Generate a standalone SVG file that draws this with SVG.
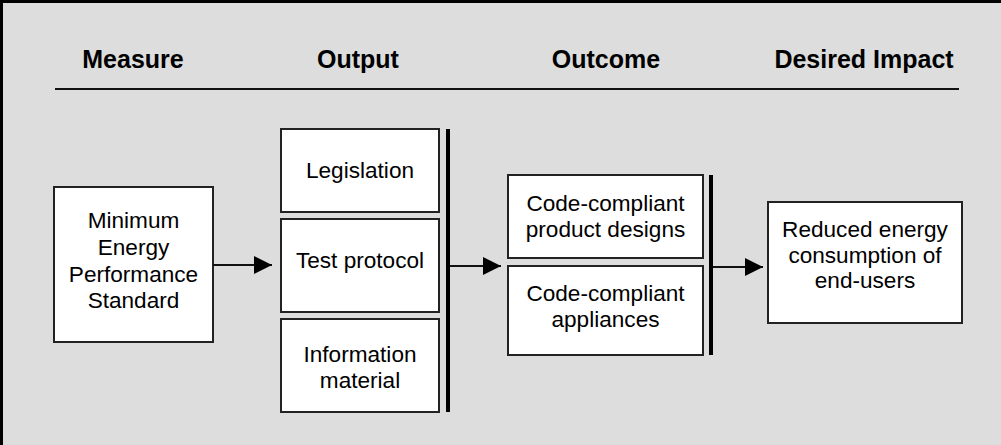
<svg xmlns="http://www.w3.org/2000/svg" width="1001" height="445" viewBox="0 0 1001 445">
  <style>
    .hdr { font-family: "Liberation Sans", Arial, sans-serif; font-size: 25px; font-weight: bold; fill: #000; text-anchor: middle; }
    .lbl { font-family: "Liberation Sans", Arial, sans-serif; font-size: 22.6px; fill: #000; text-anchor: middle; }
    .box { fill: #fff; stroke: #222; stroke-width: 2; }
    .bar { fill: #000; }
    .conn { stroke: #111; stroke-width: 2; fill: none; }
  </style>
  <defs>
    <marker id="arrow" markerWidth="9" markerHeight="9" refX="9" refY="4.5" orient="auto" markerUnits="strokeWidth">
      <path d="M0,0 L9,4.5 L0,9 Z" fill="#000"/>
    </marker>
  </defs>

  <!-- background with frame on top and left -->
  <rect x="0" y="0" width="1001" height="445" fill="#dddddd"/>
  <rect x="0" y="0" width="1001" height="3" fill="#000"/>
  <rect x="0" y="0" width="3" height="445" fill="#000"/>

  <!-- column headings -->
  <g id="headings">
    <text class="hdr" x="133" y="68">Measure</text>
    <text class="hdr" x="358" y="68">Output</text>
    <text class="hdr" x="606" y="68">Outcome</text>
    <text class="hdr" x="864" y="68">Desired Impact</text>
    <line x1="55" y1="89" x2="959" y2="89" stroke="#111" stroke-width="2"/>
  </g>

  <!-- measure -->
  <g id="measure">
    <rect class="box" x="54" y="187" width="159" height="155"/>
    <text class="lbl" x="133.5" y="228">Minimum</text>
    <text class="lbl" x="133.5" y="255">Energy</text>
    <text class="lbl" x="133.5" y="282">Performance</text>
    <text class="lbl" x="133.5" y="308">Standard</text>
  </g>

  <!-- outputs -->
  <g id="legislation">
    <rect class="box" x="281" y="129" width="158" height="83"/>
    <text class="lbl" x="360" y="178">Legislation</text>
  </g>
  <g id="test-protocol">
    <rect class="box" x="281" y="219" width="158" height="93"/>
    <text class="lbl" x="360" y="268">Test protocol</text>
  </g>
  <g id="information-material">
    <rect class="box" x="281" y="319" width="158" height="93"/>
    <text class="lbl" x="360" y="362">Information</text>
    <text class="lbl" x="360" y="388">material</text>
  </g>
  <rect class="bar" x="446" y="129" width="4" height="283"/>

  <!-- outcomes -->
  <g id="product-designs">
    <rect class="box" x="508" y="175" width="195" height="83"/>
    <text class="lbl" x="605.5" y="211">Code-compliant</text>
    <text class="lbl" x="605.5" y="237">product designs</text>
  </g>
  <g id="appliances">
    <rect class="box" x="508" y="266" width="195" height="89"/>
    <text class="lbl" x="605.5" y="301">Code-compliant</text>
    <text class="lbl" x="605.5" y="327">appliances</text>
  </g>
  <rect class="bar" x="709" y="175" width="4" height="180"/>

  <!-- desired impact -->
  <g id="impact">
    <rect class="box" x="768" y="202" width="194" height="121"/>
    <text class="lbl" x="865" y="237">Reduced energy</text>
    <text class="lbl" x="865" y="263">consumption of</text>
    <text class="lbl" x="865" y="288">end-users</text>
  </g>

  <!-- connectors -->
  <g id="connectors">
    <line class="conn" x1="213" y1="265" x2="272" y2="265" marker-end="url(#arrow)"/>
    <line class="conn" x1="450" y1="266" x2="501" y2="266" marker-end="url(#arrow)"/>
    <line class="conn" x1="713" y1="267" x2="763" y2="267" marker-end="url(#arrow)"/>
  </g>
</svg>
